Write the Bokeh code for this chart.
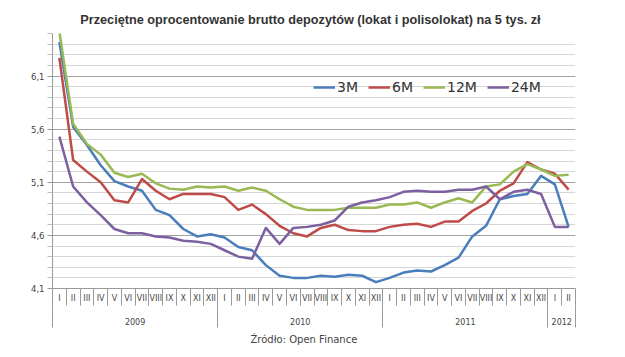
from bokeh.plotting import figure
from bokeh.models import (Range1d, FixedTicker, LinearAxis, CustomJSTickFormatter,
                          Legend, LegendItem, Title, ColumnDataSource)
from bokeh.embed import file_html
from bokeh.resources import INLINE

# ---- data -------------------------------------------------------------
month_labels = (["I", "II", "III", "IV", "V", "VI", "VII", "VIII", "IX", "X", "XI", "XII"] * 3
                + ["I", "II"])
years = ["2009", "2010", "2011", "2012"]
year_lengths = [12, 12, 12, 2]

dep_3m = [6.42, 5.62, 5.45, 5.26, 5.11, 5.06, 5.02, 4.84, 4.79, 4.66, 4.59, 4.61,
          4.58, 4.49, 4.46, 4.32, 4.22, 4.20, 4.20, 4.22, 4.21, 4.23, 4.22, 4.16,
          4.20, 4.25, 4.27, 4.26, 4.32, 4.39, 4.59, 4.69, 4.94, 4.97, 4.99, 5.16,
          5.08, 4.68]
dep_6m = [6.27, 5.31, 5.20, 5.10, 4.93, 4.91, 5.13, 5.02, 4.94, 4.99, 4.99, 4.99,
          4.96, 4.84, 4.89, 4.80, 4.69, 4.62, 4.59, 4.67, 4.70, 4.65, 4.64, 4.64,
          4.68, 4.70, 4.71, 4.68, 4.73, 4.73, 4.83, 4.90, 5.02, 5.09, 5.29, 5.22,
          5.18, 5.03]
dep_12m = [6.52, 5.65, 5.46, 5.36, 5.19, 5.15, 5.18, 5.09, 5.04, 5.03, 5.06, 5.05,
           5.06, 5.02, 5.05, 5.02, 4.94, 4.87, 4.84, 4.84, 4.84, 4.86, 4.86, 4.86,
           4.89, 4.89, 4.91, 4.86, 4.91, 4.95, 4.91, 5.06, 5.08, 5.20, 5.27, 5.22,
           5.16, 5.17]
dep_24m = [5.53, 5.06, 4.91, 4.79, 4.66, 4.62, 4.62, 4.59, 4.58, 4.55, 4.54, 4.52,
           4.46, 4.40, 4.38, 4.67, 4.52, 4.67, 4.68, 4.70, 4.74, 4.87, 4.91, 4.93,
           4.96, 5.01, 5.02, 5.01, 5.01, 5.03, 5.03, 5.06, 4.94, 5.01, 5.03, 4.99,
           4.68, 4.68]

series_names = ["3M", "6M", "12M", "24M"]
series_values = [dep_3m, dep_6m, dep_12m, dep_24m]
series_colors = ["#4A7EBB", "#BE4B48", "#98B954", "#7D60A0"]

y_major = [4.1, 4.6, 5.1, 5.6, 6.1]
y_minor = [round(4.1 + 0.1 * k, 1) for k in range(25)]
y_minor = [v for v in y_minor if v not in y_major]

n = len(month_labels)
x_centers = [i + 0.5 for i in range(n)]
x_bounds = list(range(n + 1))
year_bounds = [0]
for L in year_lengths:
    year_bounds.append(year_bounds[-1] + L)
year_centers = [(year_bounds[i] + year_bounds[i + 1]) / 2 for i in range(len(years))]

# ---- figure -----------------------------------------------------------
p = figure(width=625, height=357, x_range=Range1d(0, n), y_range=Range1d(4.1, 6.5),
           output_backend="svg", toolbar_location=None, x_axis_type=None,
           min_border_left=52, min_border_right=50, min_border_top=33,
           min_border_bottom=69, background_fill_color="white",
           border_fill_color="white")
p.outline_line_color = None

p.title.text = "Przeciętne oprocentowanie  brutto  depozytów (lokat i polisolokat) na 5 tys. zł"
p.title.align = "center"
p.title.text_font = "Liberation Sans Narrow, Liberation Sans"
p.title.text_font_size = "12.7px"
p.title.text_font_style = "bold"
p.title.text_color = "#333333"
p.title.standoff = 14

# y axis
yax = p.yaxis[0]
yax.ticker = FixedTicker(ticks=y_major, minor_ticks=y_minor)
yax.formatter = CustomJSTickFormatter(code="return tick.toFixed(1).replace('.', ',')")
yax.major_tick_out = 5
yax.minor_tick_out = 5
yax.major_tick_in = 0
yax.minor_tick_in = 0
yax.axis_line_color = "#9a9a9a"
yax.major_tick_line_color = "#9a9a9a"
yax.minor_tick_line_color = "#bdbdbd"
yax.major_label_text_font = "DejaVu Sans"
yax.major_label_text_font_size = "8.5px"
yax.major_label_text_color = "#444444"
yax.major_label_standoff = 3

p.ygrid.grid_line_color = "#a0a0a0"
p.ygrid.minor_grid_line_color = "#d6d6d6"
p.xgrid.visible = False

# month axis
ax_m = LinearAxis(ticker=FixedTicker(ticks=x_centers, minor_ticks=x_bounds),
                  formatter=CustomJSTickFormatter(args=dict(labels=month_labels),
                                                  code="return labels[Math.floor(tick)] || ''"))
ax_m.major_tick_out = 0
ax_m.major_tick_in = 0
ax_m.minor_tick_out = 17
ax_m.minor_tick_in = 0
ax_m.axis_line_color = "#9a9a9a"
ax_m.minor_tick_line_color = "#9a9a9a"
ax_m.major_label_text_font = "DejaVu Sans"
ax_m.major_label_text_font_size = "8px"
ax_m.major_label_text_color = "#444444"
ax_m.major_label_standoff = -12
p.add_layout(ax_m, "below")

# year axis
ax_y = LinearAxis(ticker=FixedTicker(ticks=year_centers, minor_ticks=year_bounds),
                  formatter=CustomJSTickFormatter(args=dict(labels=years, centers=year_centers),
                                                  code="const i = centers.indexOf(tick); return i >= 0 ? labels[i] : ''"))
ax_y.axis_line_color = None
ax_y.major_tick_out = 0
ax_y.major_tick_in = 0
ax_y.minor_tick_out = 22
ax_y.minor_tick_in = 0
ax_y.minor_tick_line_color = "#9a9a9a"
ax_y.major_label_text_font = "DejaVu Sans"
ax_y.major_label_text_font_size = "8px"
ax_y.major_label_text_color = "#444444"
ax_y.major_label_standoff = -10
p.add_layout(ax_y, "below")

src = Title(text="Źródło: Open Finance", align="left", offset=198,
            text_font="DejaVu Sans", text_font_size="10px", text_font_style="normal",
            text_color="#444444", standoff=8)
p.add_layout(src, "below")

# lines
items = []
for name, vals, col in zip(series_names, series_values, series_colors):
    src_ds = ColumnDataSource(dict(x=x_centers, y=vals))
    r = p.line("x", "y", source=src_ds, line_color=col, line_width=2.5, line_join="round")
    items.append(LegendItem(label=name, renderers=[r]))

legend = Legend(items=items, orientation="horizontal", location=(261, 191),
                glyph_width=22, glyph_height=20, label_standoff=2, spacing=10,
                padding=0, margin=0, border_line_color=None, background_fill_alpha=0,
                label_text_font="DejaVu Sans", label_text_font_size="14px",
                label_text_color="#333333", label_width=0)
p.add_layout(legend)

open("out.html", "w").write(file_html(p, INLINE))
